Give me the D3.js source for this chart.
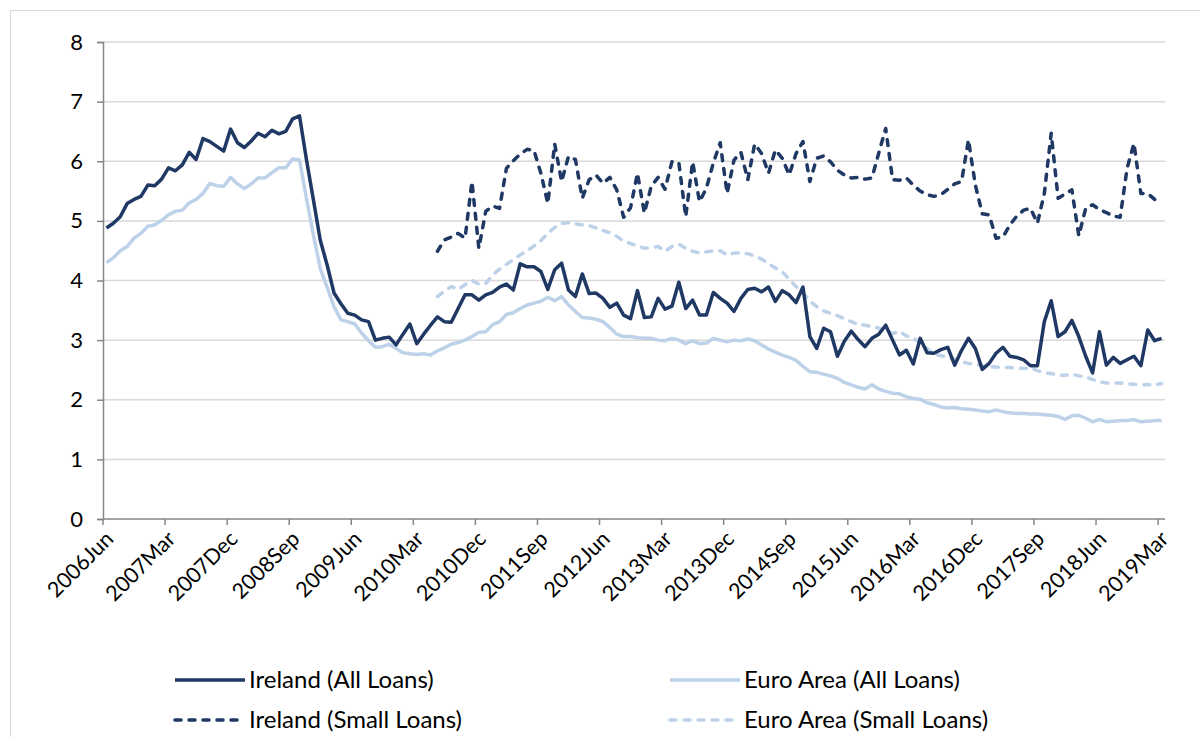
<!DOCTYPE html>
<html>
<head>
<meta charset="utf-8">
<script src="https://cdn.jsdelivr.net/npm/d3@7"></script>
<style>
  body { margin: 0; background: #fff; }
  svg { display: block; }
  text { font-family: Lato, "Open Sans", sans-serif; fill: #000; }
</style>
</head>
<body>
<div id="chart"></div>
<script>
// monthly categories, 2006Jun .. 2019Mar
const monthNames = ["Jan", "Feb", "Mar", "Apr", "May", "Jun", "Jul", "Aug", "Sep", "Oct", "Nov", "Dec"];
const months = [];
for (let k = 0; k < 154; k++) {
    let m = 5 + k;
    months.push((2006 + Math.floor(m / 12)) + monthNames[m % 12]);
}

const tickLabels = ["2006Jun", "2007Mar", "2007Dec", "2008Sep", "2009Jun", "2010Mar", "2010Dec", "2011Sep",
    "2012Jun", "2013Mar", "2013Dec", "2014Sep", "2015Jun", "2016Mar", "2016Dec", "2017Sep", "2018Jun", "2019Mar"];
const yTicks = [0, 1, 2, 3, 4, 5, 6, 7, 8];

// all four series run to 2019Mar; the small loan series start in 2010Jun
const smallStart = "2010Jun";

const irelandAll = [
    4.88, 4.96, 5.07, 5.29, 5.36, 5.41, 5.60, 5.59, 5.70, 5.89, 5.84, 5.94, 6.15, 6.03, 6.38, 6.33, 6.25, 6.17,
    6.54, 6.31, 6.23, 6.34, 6.47, 6.41, 6.52, 6.46, 6.50, 6.71, 6.76, 6.03, 5.36, 4.68, 4.26, 3.79, 3.61, 3.45,
    3.42, 3.34, 3.31, 3.00, 3.03, 3.05, 2.92, 3.10, 3.27, 2.94, 3.10, 3.25, 3.39, 3.31, 3.30, 3.53, 3.76, 3.76,
    3.67, 3.76, 3.80, 3.89, 3.94, 3.84, 4.28, 4.23, 4.23, 4.15, 3.85, 4.18, 4.29, 3.84, 3.73, 4.11, 3.78, 3.79,
    3.70, 3.55, 3.62, 3.42, 3.36, 3.83, 3.38, 3.39, 3.70, 3.52, 3.57, 3.97, 3.53, 3.67, 3.42, 3.42, 3.80, 3.70,
    3.62, 3.48, 3.70, 3.85, 3.87, 3.81, 3.89, 3.65, 3.83, 3.76, 3.63, 3.89, 3.06, 2.86, 3.20, 3.14, 2.73, 2.98,
    3.15, 3.01, 2.89, 3.03, 3.10, 3.25, 3.00, 2.75, 2.83, 2.60, 3.03, 2.79, 2.78, 2.84, 2.88, 2.58, 2.83, 3.03,
    2.86, 2.51, 2.61, 2.78, 2.88, 2.73, 2.71, 2.67, 2.57, 2.57, 3.31, 3.66, 3.06, 3.14, 3.33, 3.06, 2.73, 2.45,
    3.14, 2.58, 2.71, 2.61, 2.67, 2.73, 2.57, 3.17, 2.99, 3.03
];

const euroAll = [
    4.30, 4.38, 4.50, 4.57, 4.71, 4.79, 4.91, 4.93, 5.01, 5.10, 5.16, 5.18, 5.30, 5.36, 5.46, 5.63, 5.59, 5.58,
    5.73, 5.62, 5.54, 5.62, 5.72, 5.72, 5.81, 5.89, 5.89, 6.04, 6.02, 5.38, 4.77, 4.20, 3.89, 3.56, 3.34, 3.31,
    3.27, 3.12, 2.99, 2.88, 2.89, 2.93, 2.86, 2.79, 2.77, 2.76, 2.77, 2.75, 2.82, 2.87, 2.93, 2.96, 3.00, 3.06,
    3.13, 3.14, 3.26, 3.31, 3.43, 3.46, 3.53, 3.59, 3.62, 3.65, 3.72, 3.66, 3.73, 3.59, 3.48, 3.38, 3.37, 3.35,
    3.31, 3.21, 3.10, 3.06, 3.06, 3.04, 3.03, 3.03, 3.00, 2.99, 3.03, 3.00, 2.94, 2.99, 2.94, 2.95, 3.03, 3.00,
    2.97, 3.00, 2.99, 3.02, 2.99, 2.92, 2.85, 2.80, 2.75, 2.71, 2.66, 2.56, 2.47, 2.46, 2.43, 2.40, 2.36, 2.29,
    2.25, 2.21, 2.18, 2.25, 2.18, 2.14, 2.11, 2.10, 2.05, 2.02, 2.01, 1.95, 1.92, 1.88, 1.86, 1.87, 1.85, 1.84,
    1.83, 1.81, 1.80, 1.83, 1.80, 1.78, 1.77, 1.77, 1.76, 1.76, 1.75, 1.74, 1.72, 1.67, 1.73, 1.74, 1.69, 1.63,
    1.67, 1.63, 1.64, 1.65, 1.65, 1.67, 1.63, 1.64, 1.65, 1.65
];

const irelandSmall = [
    4.49, 4.68, 4.73, 4.79, 4.71, 5.66, 4.54, 5.16, 5.25, 5.21, 5.88, 6.01, 6.12, 6.20, 6.18, 5.80, 5.29, 6.29,
    5.66, 6.08, 6.03, 5.38, 5.69, 5.77, 5.63, 5.73, 5.52, 5.06, 5.22, 5.80, 5.13, 5.58, 5.73, 5.53, 5.99, 5.98,
    5.07, 5.99, 5.32, 5.55, 5.97, 6.31, 5.46, 6.02, 6.15, 5.69, 6.29, 6.13, 5.80, 6.19, 6.05, 5.77, 6.13, 6.33,
    5.66, 6.05, 6.09, 5.99, 5.85, 5.77, 5.72, 5.73, 5.70, 5.72, 6.14, 6.55, 5.69, 5.68, 5.72, 5.60, 5.50, 5.44,
    5.41, 5.44, 5.53, 5.62, 5.66, 6.36, 5.60, 5.12, 5.10, 4.71, 4.73, 4.93, 5.08, 5.18, 5.21, 4.96, 5.46, 6.47,
    5.38, 5.45, 5.52, 4.75, 5.21, 5.27, 5.19, 5.14, 5.08, 5.06, 5.88, 6.30, 5.46, 5.46, 5.36, 5.34
];

const euroSmall = [
    3.73, 3.82, 3.90, 3.85, 3.93, 4.00, 3.94, 3.95, 4.09, 4.19, 4.27, 4.35, 4.43, 4.50, 4.58, 4.67, 4.79, 4.89,
    4.96, 4.97, 4.95, 4.93, 4.92, 4.88, 4.84, 4.80, 4.74, 4.66, 4.62, 4.58, 4.54, 4.55, 4.57, 4.49, 4.57, 4.61,
    4.54, 4.49, 4.46, 4.48, 4.50, 4.50, 4.43, 4.46, 4.46, 4.45, 4.41, 4.36, 4.28, 4.21, 4.15, 4.02, 3.90, 3.79,
    3.66, 3.56, 3.49, 3.45, 3.41, 3.36, 3.31, 3.26, 3.25, 3.23, 3.20, 3.16, 3.11, 3.15, 3.07, 3.03, 2.96, 2.86,
    2.76, 2.74, 2.71, 2.68, 2.64, 2.61, 2.59, 2.57, 2.56, 2.55, 2.54, 2.54, 2.53, 2.53, 2.53, 2.49, 2.45, 2.44,
    2.41, 2.41, 2.43, 2.40, 2.38, 2.34, 2.30, 2.28, 2.28, 2.28, 2.27, 2.26, 2.25, 2.25, 2.25, 2.27
];

const dark = "#1F3864";
const light = "#BDD2E8";

const seriesList = [
    { name: "Euro Area (All Loans)", values: euroAll, start: months[0], color: light, dash: null },
    { name: "Euro Area (Small Loans)", values: euroSmall, start: smallStart, color: light, dash: "6,8" },
    { name: "Ireland (Small Loans)", values: irelandSmall, start: smallStart, color: dark, dash: "6,8" },
    { name: "Ireland (All Loans)", values: irelandAll, start: months[0], color: dark, dash: null }
];

const legendOrder = ["Ireland (All Loans)", "Euro Area (All Loans)", "Ireland (Small Loans)", "Euro Area (Small Loans)"];

const width = 1200, height = 737;
const margin = { top: 42, left: 103, right: 35, bottom: 218 };

const svg = d3.select("#chart").append("svg")
    .attr("width", width)
    .attr("height", height);

// outer chart border
svg.append("rect")
    .attr("x", 10.5).attr("y", 10.5)
    .attr("width", width).attr("height", height)
    .attr("fill", "none")
    .attr("stroke", "#D9D9D9")
    .attr("stroke-width", 1);

const x = d3.scaleBand()
    .domain(months)
    .range([margin.left, width - margin.right])
    .padding(0);

const y = d3.scaleLinear()
    .domain([0, 8])
    .range([height - margin.bottom, margin.top]);

const cx = d => x(d) + x.bandwidth() / 2;

// gridlines
svg.append("g")
    .selectAll("line")
    .data(yTicks.filter(d => d > 0))
    .enter()
    .append("line")
    .attr("x1", margin.left)
    .attr("x2", width - margin.right)
    .attr("y1", d => y(d))
    .attr("y2", d => y(d))
    .attr("stroke", "#D9D9D9")
    .attr("stroke-width", 1.5);

// y axis
const yAxis = svg.append("g")
    .attr("transform", "translate(" + margin.left + ",0)")
    .call(d3.axisLeft(y).tickValues(yTicks).tickSize(6).tickPadding(14).tickFormat(d3.format("d")));
yAxis.select(".domain").attr("stroke", "#868686").attr("stroke-width", 1.5);
yAxis.selectAll(".tick line").attr("stroke", "#868686").attr("stroke-width", 1.5);
yAxis.selectAll(".tick text").attr("font-size", 22).attr("font-family", "Lato, sans-serif").attr("fill", "#000");

// x axis: tick marks on category boundaries every 9 months
const xg = svg.append("g");
xg.append("line")
    .attr("x1", margin.left).attr("x2", width - margin.right)
    .attr("y1", y(0)).attr("y2", y(0))
    .attr("stroke", "#868686").attr("stroke-width", 1.5);

xg.selectAll(".xtick")
    .data(tickLabels)
    .enter()
    .append("line")
    .attr("class", "xtick")
    .attr("x1", d => x(d)).attr("x2", d => x(d))
    .attr("y1", y(0)).attr("y2", y(0) + 6)
    .attr("stroke", "#868686").attr("stroke-width", 1.5);

xg.selectAll(".xlabel")
    .data(tickLabels)
    .enter()
    .append("text")
    .attr("class", "xlabel")
    .attr("transform", d => "translate(" + (cx(d) + 3) + "," + (y(0) + 16) + ") rotate(-45)")
    .attr("text-anchor", "end")
    .attr("dy", "0.35em")
    .attr("font-size", 21.5)
    .text(d => d);

// lines
const line = d3.line()
    .x(d => cx(d.month))
    .y(d => y(d.value));

seriesList.forEach(s => {
    let offset = months.indexOf(s.start);
    let pts = s.values.map((v, k) => ({ month: months[offset + k], value: v }));
    let path = svg.append("path")
        .datum(pts)
        .attr("fill", "none")
        .attr("stroke", s.color)
        .attr("stroke-width", 3.5)
        .attr("stroke-linejoin", "round")
        .attr("d", line);
    if (s.dash) {
        path.attr("stroke-dasharray", s.dash).attr("stroke-linecap", "round");
    }
});

// legend
const legend = svg.append("g");
legendOrder.forEach((name, k) => {
    let s = seriesList.find(d => d.name === name);
    let lx = (k % 2 === 0) ? 175 : 670;
    let ly = (k < 2) ? 680 : 720;
    let g = legend.append("g").attr("transform", "translate(" + lx + "," + ly + ")");
    let l = g.append("line")
        .attr("x1", 0).attr("x2", 70)
        .attr("y1", 0).attr("y2", 0)
        .attr("stroke", s.color)
        .attr("stroke-width", 3.5);
    if (s.dash) {
        l.attr("stroke-dasharray", s.dash).attr("stroke-linecap", "round");
    }
    g.append("text")
        .attr("x", 74)
        .attr("dy", "0.35em")
        .attr("font-size", 24)
        .text(name);
});
</script>
</body>
</html>
